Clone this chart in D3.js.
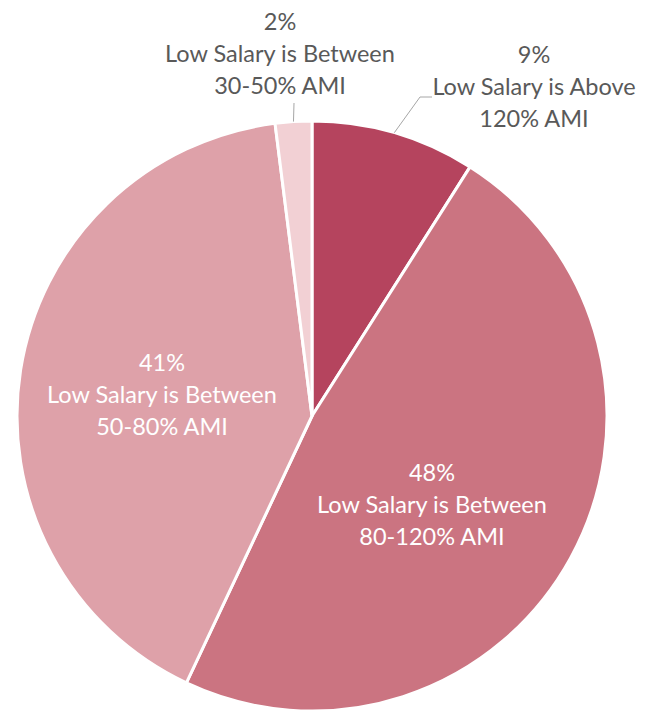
<!DOCTYPE html>
<html>
<head>
<meta charset="utf-8">
<script src="https://cdn.jsdelivr.net/npm/d3@7"></script>
<style>
  body { margin: 0; background: #fff; }
  svg text { font-family: Lato, "Open Sans", sans-serif; }
</style>
</head>
<body>
<svg id="pie" width="651" height="711"></svg>
<script>
// DATA
const categories = ["120+", "80-120", "50-80", "30-50"];
const values = [9, 48, 41, 2];
const percentLabels = ["9%", "48%", "41%", "2%"];
const descLines = [
    ["Low Salary is Above", "120% AMI"],
    ["Low Salary is Between", "80-120% AMI"],
    ["Low Salary is Between", "50-80% AMI"],
    ["Low Salary is Between", "30-50% AMI"]
];
const colors = ["#b5445e", "#cb7481", "#dea1a9", "#f2d0d4"];

const width = 651, height = 711;
const cx = 312, cy = 416, radius = 295;

// label anchor (centre of the first line) and leader geometry
const labelPos = {
    "120+":   { x: 534, y: 55,  inside: false, elbow: [420, 97], end: [432, 97] },
    "80-120": { x: 432, y: 473, inside: true },
    "50-80":  { x: 162, y: 363, inside: true },
    "30-50":  { x: 280, y: 22,  inside: false, elbow: null, end: [294, 103] }
};

const svg = d3.select("svg#pie");
const g = svg.append("g").attr("transform", `translate(${cx},${cy})`);

const data = categories.map((c, i) => ({ cat: c, value: values[i], pct: percentLabels[i], lines: descLines[i], color: colors[i] }));

const pie = d3.pie().value(d => d.value).sort(null);
const arc = d3.arc().innerRadius(0).outerRadius(radius);
const edgeArc = d3.arc().innerRadius(radius).outerRadius(radius);

const arcs = pie(data);

// SLICES
g.selectAll("path.slice")
    .data(arcs)
    .join("path")
    .attr("class", "slice")
    .attr("d", arc)
    .attr("fill", d => d.data.color)
    .attr("stroke", "#fff")
    .attr("stroke-width", 3)
    .attr("stroke-linejoin", "round");

// LEADER LINES
arcs.filter(d => !labelPos[d.data.cat].inside).forEach(d => {
    const p = labelPos[d.data.cat];
    const [sx, sy] = edgeArc.centroid(d);
    const pts = [[sx + cx, sy + cy]];
    if (p.elbow) pts.push(p.elbow);
    pts.push(p.end);
    svg.append("path")
        .attr("d", d3.line()(pts))
        .attr("fill", "none")
        .attr("stroke", "#a6a6a6")
        .attr("stroke-width", 1);
});

// LABELS
arcs.forEach(d => {
    const p = labelPos[d.data.cat];
    const fill = p.inside ? "#ffffff" : "#595959";
    const t = svg.append("text")
        .attr("text-anchor", "middle")
        .attr("fill", fill)
        .attr("font-size", 23.5);
    const lines = [d.data.pct].concat(d.data.lines);
    lines.forEach((ln, i) => {
        t.append("tspan")
            .attr("x", p.x)
            .attr("y", p.y + i * 32)
            .attr("dy", "0.35em")
            .text(ln);
    });
});
</script>
</body>
</html>
